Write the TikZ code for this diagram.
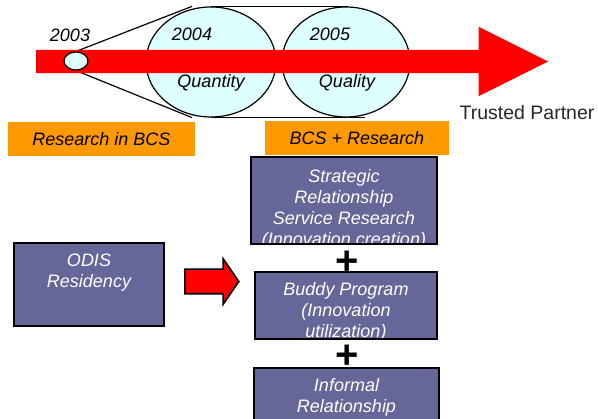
\documentclass[tikz,border=0pt]{standalone}
\usepackage{fontspec}
\setmainfont{Liberation Sans}
\usetikzlibrary{positioning,calc,backgrounds,shapes.geometric,shapes.arrows}
\definecolor{boxpurple}{RGB}{102,102,153}
\definecolor{labelorange}{RGB}{255,153,0}
\definecolor{ellcyan}{RGB}{221,255,255}
\tikzset{x=1pt,y=1pt,
yr/.style={font=\fontsize{18}{21}\selectfont\itshape,inner sep=0pt},
yearell/.style={ellipse,draw,line width=1.2pt,fill=ellcyan,inner sep=0pt},
ln/.style={line width=1.2pt},
ob/.style={rectangle,fill=labelorange,inner sep=0pt,font=\fontsize{18}{21}\selectfont\itshape},
pb/.style={rectangle,draw,line width=1.6pt,fill=boxpurple,inner sep=0pt},
boxtext/.style={font=\fontsize{18}{21}\selectfont\itshape,text=white,align=center,inner sep=0pt,
  minimum width=0pt,minimum height=0pt},
cliptext/.style 2 args={path picture={\node[boxtext,anchor=north] at ([yshift=-#1]path picture bounding box.north) {#2};}},
bigarrow/.style={single arrow,fill=red,inner sep=0pt,inner ysep=11.5pt,anchor=tail,
  minimum height=512,minimum width=69,single arrow head extend=23pt,single arrow tip angle=53},
blockarrow/.style={single arrow,draw,line width=1.6pt,fill=red,inner sep=0pt,inner ysep=11.5pt,anchor=tail,
  minimum height=54,minimum width=44,single arrow head extend=10.5pt,single arrow tip angle=111},
plus/.style={font=\fontsize{40}{40}\selectfont\bfseries,inner sep=0pt},
}
\begin{document}
\begin{tikzpicture}
	\clip (0,0) rectangle (598,419);

	% time line
	\node[bigarrow] (bar) at (36,357.5) {};
	\node[yearell,minimum width=24,minimum height=18] (e03) at (76,358) {};
	\begin{pgfonlayer}{background}
		\node[yearell,minimum width=130,minimum height=110] (e04) at (211,357) {};
		\node[yearell,minimum width=128,minimum height=110] (e05) at (346,357) {};
		\draw[ln] (e03.north) -- ([xshift=-19pt]e04.north);
		\draw[ln] (e03.south) -- ([xshift=-19pt]e04.south);
		\draw[ln] (e04.north) -- ([xshift=2pt]e05.north);
		\draw[ln] (e04.south) -- ([xshift=19pt]e05.south);
	\end{pgfonlayer}
	\node[yr] (y03) at (70,384) {2003};
	\node[yr] (y04) at (192,385) {2004};
	\node[yr] (qn) at (211,336) {Quantity};
	\node[yr] (y05) at (330,385) {2005};
	\node[yr] (ql) at (347,336) {Quality};
	\node[font=\fontsize{19.5}{21}\selectfont,text=black!85,inner sep=0pt] (tp) at (527,306) {Trusted Partner};

	\node[ob,minimum width=187,minimum height=34] (rbcs) at (101.5,280) {Research in BCS};
	\node[ob,minimum width=184,minimum height=34] (bcsr) at (357,281) {BCS + Research};

	% programs
	\node[pb,minimum width=186,minimum height=87,
		cliptext={12pt}{Strategic\\Relationship\\Service Research\\(Innovation creation)}] (strat) at (344,218.5) {};
	\node[pb,minimum width=182,minimum height=67,
		cliptext={10pt}{Buddy Program\\(Innovation\\utilization)}] (buddy) at (346,113.5) {};
	\node[pb,minimum width=185,minimum height=72,
		cliptext={10pt}{Informal\\Relationship}] (inf) at (346.5,15) {};
	\node[plus] (p1) at (347,156) {+};
	\node[plus] (p2) at (347,62) {+};

	\node[pb,minimum width=150,minimum height=83,
		cliptext={10pt}{ODIS\\Residency}] (odis) at (89,134.5) {};
	\node[blockarrow] (go) at (184,137.5) {};
\end{tikzpicture}
\end{document}
